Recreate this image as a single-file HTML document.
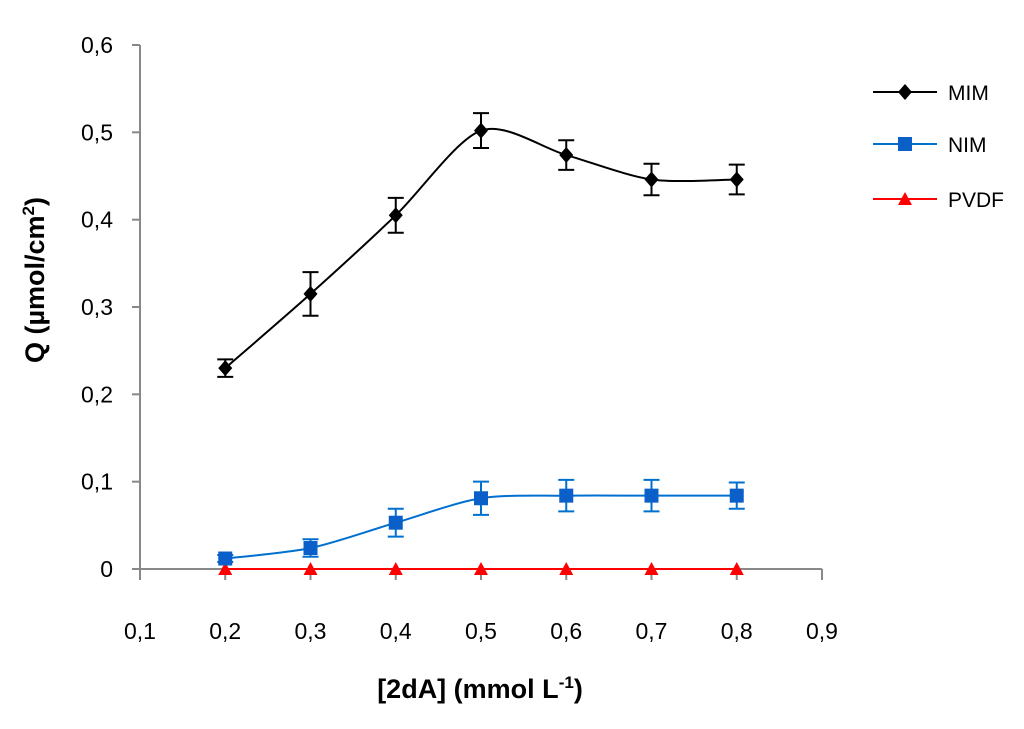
<!DOCTYPE html>
<html><head><meta charset="utf-8"><style>
body{margin:0;background:#fff;width:1024px;height:724px;overflow:hidden}
svg{font-family:"Liberation Sans",sans-serif}
</style></head><body>
<svg id="c" width="1024" height="724"></svg>
<script>
const xs=[0.2,0.3,0.4,0.5,0.6,0.7,0.8];
const mim=[0.23,0.315,0.405,0.502,0.474,0.446,0.446];
const mimErr=[0.01,0.025,0.02,0.02,0.017,0.018,0.017];
const nim=[0.012,0.024,0.053,0.081,0.084,0.084,0.084];
const nimErr=[0.004,0.01,0.016,0.019,0.018,0.018,0.015];
const pvdf=[0,0,0,0,0,0,0];
const xTicks=[0.1,0.2,0.3,0.4,0.5,0.6,0.7,0.8,0.9];
const yTicks=[0,0.1,0.2,0.3,0.4,0.5,0.6];
const X=v=>140+(v-0.1)/0.8*682;
const Y=v=>569-v/0.6*524;
const s=document.getElementById('c');const NS='http://www.w3.org/2000/svg';
function el(t,a,txt){const e=document.createElementNS(NS,t);for(const k in a)e.setAttribute(k,a[k]);if(txt!=null)e.textContent=txt;s.appendChild(e);return e;}
let e;
e=el('line',{x1:140,y1:Y(0.6),x2:140,y2:580,stroke:'#888','stroke-width':2});


e=el('line',{x1:140,y1:569,x2:822,y2:569,stroke:'#888','stroke-width':2});


yTicks.forEach(v=>{
 e=el('line',{x1:132,y1:Y(v),x2:140,y2:Y(v),stroke:'#888','stroke-width':2});
 
 
 e=el('text',{x:113,y:Y(v)+8,'text-anchor':'end','font-size':23},v===0?'0':String(v).replace('.',','));
 
 
});
xTicks.forEach(v=>{
 e=el('line',{x1:X(v),y1:569,x2:X(v),y2:580,stroke:'#888','stroke-width':2});
 
 
 e=el('text',{x:X(v),y:639,'text-anchor':'middle','font-size':23},v.toFixed(1).replace('.',','));
 
 
});
function smooth(p){let d=`M${p[0][0]},${p[0][1]}`;for(let i=0;i<p.length-1;i++){const p0=p[i-1]||p[i],p1=p[i],p2=p[i+1],p3=p[i+2]||p2;const t=1/7;d+=` C${p1[0]+(p2[0]-p0[0])*t},${p1[1]+(p2[1]-p0[1])*t} ${p2[0]-(p3[0]-p1[0])*t},${p2[1]-(p3[1]-p1[1])*t} ${p2[0]},${p2[1]}`;}return d;}
function series(name,vals,errs,color,marker){
 const pts=xs.map((x,i)=>[X(x),Y(vals[i])]);
 e=el('path',{d:smooth(pts),fill:'none',stroke:color,'stroke-width':2});
 
 
 xs.forEach((x,i)=>{
  const cx=X(x),cy=Y(vals[i]);
  if(errs){const t=Y(vals[i]+errs[i]),b=Y(vals[i]-errs[i]);
   e=el('path',{d:`M${cx},${t}V${b}M${cx-8},${t}H${cx+8}M${cx-8},${b}H${cx+8}`,stroke:color,'stroke-width':2,fill:'none'});
   
   }
  e=marker(cx,cy);
  
  
 });
}
const dia=(c)=>(x,y)=>el('path',{d:`M${x},${y-8}L${x+7},${y}L${x},${y+8}L${x-7},${y}Z`,fill:c});
const sq=(c)=>(x,y)=>el('rect',{x:x-7,y:y-7,width:14,height:14,fill:c});
const tri=(c)=>(x,y)=>el('path',{d:`M${x},${y-7}L${x+7},${y+6}L${x-7},${y+6}Z`,fill:c});
series('pvdf',pvdf,null,'#ff0000',tri('#ff0000'));
series('nim',nim,nimErr,'#0070d0',sq('#0a60c8'));
series('mim',mim,mimErr,'#000',dia('#000'));
[['MIM','#000',dia('#000'),92],['NIM','#0070d0',sq('#0a60c8'),144],['PVDF','#ff0000',tri('#ff0000'),199]].forEach(([n,c,m,y])=>{
 e=el('line',{x1:873,y1:y,x2:937,y2:y,stroke:c,'stroke-width':2});
 
 
 e=m(905,y);
 
 
 e=el('text',{x:948,y:y+8,'font-size':21},n);
 
 
});
e=el('text',{x:0,y:0,'font-size':27,'font-weight':'bold','text-anchor':'middle',transform:'translate(44,280) rotate(-90)'});
e.innerHTML='Q (µmol/cm<tspan dy="-10" font-size="17">2</tspan><tspan dy="10">)</tspan>';


e=el('text',{x:480,y:698,'font-size':27,'font-weight':'bold','text-anchor':'middle'});
e.innerHTML='[2dA] (mmol L<tspan dy="-10" font-size="17">-1</tspan><tspan dy="10">)</tspan>';


</script>
</body></html>
